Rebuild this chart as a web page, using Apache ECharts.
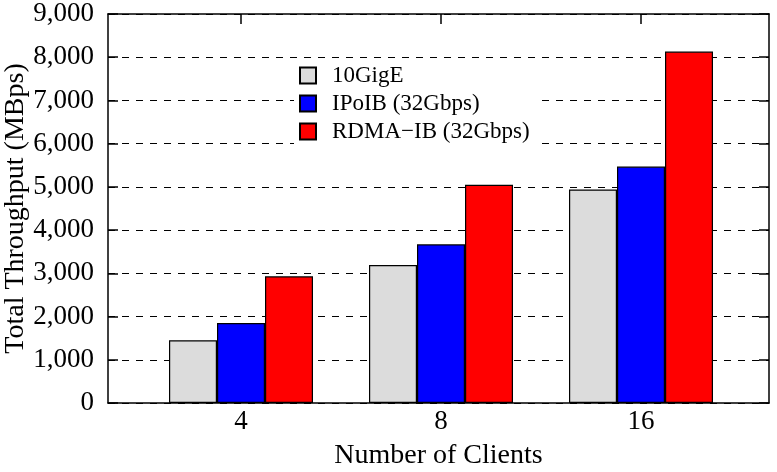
<!DOCTYPE html>
<html>
<head>
<meta charset="utf-8">
<script src="https://cdn.jsdelivr.net/npm/echarts@6/dist/echarts.min.js"></script>
<style>html,body{margin:0;padding:0;background:#fff}#c{width:777px;height:472px}</style>
</head>
<body>
<div id="c"></div>
<script>
const categories = ['4', '8', '16'];
const seriesNames = ['10GigE', 'IPoIB (32Gbps)', 'RDMA\u2212IB (32Gbps)'];
const gige = [1450, 3190, 4940];
const ipoib = [1850, 3670, 5470];
const rdma = [2930, 5050, 8130];
const yTicks = [0, 1000, 2000, 3000, 4000, 5000, 6000, 7000, 8000, 9000];
const colors = ['#dcdcdc', '#0000ff', '#ff0000'];
const values = [gige, ipoib, rdma];

const FONT = 'Liberation Serif';
const chart = echarts.init(document.getElementById('c'), null, {renderer: 'canvas'});
const catIdx = categories.map((c, i) => i);

chart.setOption({
  animation: false,
  backgroundColor: '#fff',
  textStyle: {fontFamily: FONT, color: '#000'},
  grid: {left: 108, right: 8, top: 14, bottom: 69, containLabel: false, outerBoundsMode: 'none'},
  legend: {
    orient: 'vertical',
    left: 294, top: 60,
    itemWidth: 16, itemHeight: 16, itemGap: 5,
    padding: [4, 12, 4, 5],
    backgroundColor: '#fff',
    icon: 'rect',
    formatter: name => '{t|' + name + '}',
    textStyle: {
      fontFamily: FONT, fontSize: 23, color: '#000',
      rich: {t: {fontFamily: FONT, fontSize: 23, color: '#000', lineHeight: 16, padding: [0, 0, 0, 11]}}
    },
    data: seriesNames
  },
  xAxis: [{
    type: 'value', position: 'bottom',
    min: -0.665, max: 2.64,
    name: 'Number of Clients', nameLocation: 'middle', nameGap: 39,
    nameMoveOverlap: false,
    nameTextStyle: {fontFamily: FONT, fontSize: 28, color: '#000'},
    axisLine: {show: true, onZero: false, lineStyle: {color: '#000', width: 1.5}},
    axisTick: {show: true, inside: true, length: 10, customValues: catIdx, lineStyle: {color: '#000', width: 1.5}},
    axisLabel: {show: true, customValues: catIdx, formatter: v => categories[Math.round(v)], fontFamily: FONT, fontSize: 27, color: '#000', margin: 5},
    splitLine: {show: false}
  }, {
    type: 'value', position: 'top',
    min: -0.665, max: 2.64,
    axisLine: {show: true, onZero: false, lineStyle: {color: '#000', width: 1.5}},
    axisTick: {show: true, inside: true, length: 10, customValues: catIdx, lineStyle: {color: '#000', width: 1.5}},
    axisLabel: {show: false},
    splitLine: {show: false}
  }],
  yAxis: [{
    type: 'value', position: 'left',
    min: yTicks[0], max: yTicks[yTicks.length - 1], interval: 1000,
    name: 'Total Throughput (MBps)', nameLocation: 'middle', nameGap: 78,
    nameMoveOverlap: false,
    nameTextStyle: {fontFamily: FONT, fontSize: 28, color: '#000'},
    axisLine: {show: true, onZero: false, lineStyle: {color: '#000', width: 1.5}},
    axisTick: {show: true, inside: true, length: 10, lineStyle: {color: '#000', width: 1.5}},
    axisLabel: {fontFamily: FONT, fontSize: 27, color: '#000', margin: 14, formatter: v => v.toLocaleString('en-US')},
    splitLine: {show: true, lineStyle: {color: '#000', width: 1, type: [7, 7]}}
  }, {
    type: 'value', position: 'right',
    min: yTicks[0], max: yTicks[yTicks.length - 1], interval: 1000,
    axisLine: {show: true, onZero: false, lineStyle: {color: '#000', width: 1.5}},
    axisTick: {show: true, inside: true, length: 10, lineStyle: {color: '#000', width: 1.5}},
    axisLabel: {show: false},
    splitLine: {show: false}
  }],
  series: seriesNames.map((name, s) => ({
    name: name,
    type: 'bar',
    xAxisIndex: 0, yAxisIndex: 0,
    barWidth: 48,
    barGap: '0%',
    itemStyle: {color: colors[s], borderColor: '#000', borderWidth: 1.2},
    data: values[s].map((v, i) => [catIdx[i], v])
  }))
});
</script>
</body>
</html>
